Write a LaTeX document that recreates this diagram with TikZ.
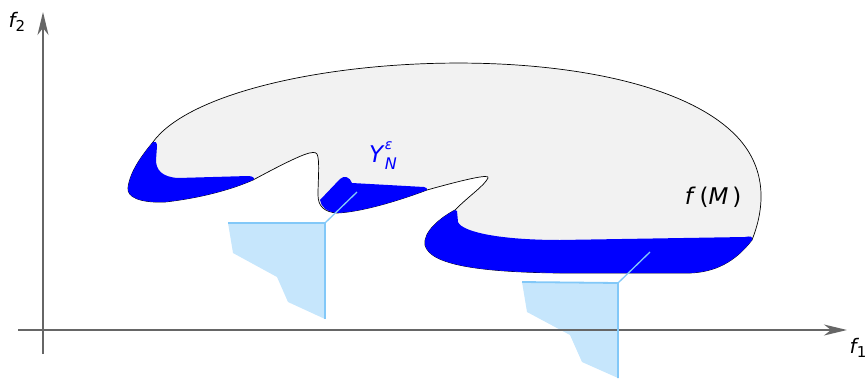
\documentclass[tikz,border=0pt]{standalone}
\usepackage{fontspec}
\setmainfont{DejaVu Sans}
\usetikzlibrary{arrows.meta}
\definecolor{coneLight}{RGB}{198,230,252}
\definecolor{coneLine}{RGB}{130,200,248}

\begin{document}
\begin{tikzpicture}[
        x=1pt, y=-1pt,
        axisLine/.style={
            draw=black!60,
            line width=1.6pt,
            -{Stealth[length=23pt, width=11pt, inset=7pt]}
        },
        setFill/.style={
            fill=gray!10,
            draw=black,
            line width=0.7pt
        },
        nondomFill/.style={
            fill=blue,
            draw=none
        },
        coneFill/.style={
            fill=coneLight,
            draw=none
        },
        coneEdge/.style={
            draw=coneLine,
            line width=1.8pt
        },
        axisLabel/.style={
            font=\fontsize{20}{24}\selectfont\itshape
        },
        setLabel/.style={
            font=\fontsize{23}{27}\selectfont
        }
    ]

        \useasboundingbox (0,0) rectangle (865,378);

        % Image set f(M)
        \path[setFill]
            (153,142) .. controls (220,50) and (640,25) .. (740,140)
            .. controls (770,175) and (762,215) .. (752,240)
            .. controls (735,262) and (715,272) .. (690,273)
            -- (560,273)
            .. controls (480,272) and (430,265) .. (425,245)
            .. controls (423,232) and (440,218) .. (455,210)
            .. controls (470,195) and (484,186) .. (488,178)
            .. controls (490,174) and (470,178) .. (427,190)
            .. controls (395,202) and (360,212) .. (337,213)
            .. controls (324,212) and (318,206) .. (318,195)
            .. controls (318,180) and (320,160) .. (317,154)
            .. controls (314,150) and (305,152) .. (253,180)
            .. controls (230,190) and (200,198) .. (165,202)
            .. controls (140,203) and (127,197) .. (128,188)
            .. controls (130,170) and (145,152) .. (153,142)
            -- cycle;

        % Nondominated parts
        \fill[nondomFill]
            (153,142) .. controls (145,152) and (130,170) .. (128,188)
            .. controls (127,197) and (140,203) .. (165,202)
            .. controls (200,198) and (230,190) .. (253,180)
            .. controls (256,178) and (252,176) .. (248,176)
            -- (178,178)
            .. controls (162,177) and (156,170) .. (156,160)
            -- (157,146)
            .. controls (157,142) and (155,141) .. (153,142)
            -- cycle;

        \fill[nondomFill]
            (320,200) -- (340,179)
            .. controls (344,175) and (350,177) .. (352,183)
            -- (424,187)
            .. controls (426,187) and (428,189) .. (427,190)
            .. controls (395,202) and (360,212) .. (337,213)
            .. controls (327,212) and (321,207) .. (320,200)
            -- cycle;

        \fill[nondomFill]
            (455,210) .. controls (440,218) and (423,232) .. (425,245)
            .. controls (430,265) and (480,272) .. (560,273)
            -- (690,273)
            .. controls (715,272) and (735,262) .. (752,240)
            .. controls (753,236) and (750,236) .. (745,237)
            -- (560,240)
            .. controls (500,240) and (462,232) .. (458,222)
            -- (457,211)
            -- cycle;

        % Ordering cones
        \coordinate (apexA) at (325,223);
        \coordinate (leftA) at (228,223);
        \coordinate (footA) at (325,319);
        \coordinate (tipA) at (357,192);
        \fill[coneFill] (leftA) -- (apexA) -- (footA) -- (288,302)
            -- (277,277) -- (233,253) -- cycle;
        \draw[coneEdge] (leftA) -- (apexA) -- (footA);
        \draw[coneEdge, line width=1.3pt] (apexA) -- (tipA);

        \coordinate (apexB) at (618,283);
        \coordinate (leftB) at (522,282);
        \coordinate (footB) at (618,378);
        \coordinate (tipB) at (650,252);
        \fill[coneFill] (leftB) -- (apexB) -- (footB) -- (582,362)
            -- (570,335) -- (527,312) -- cycle;

        % Axes
        \coordinate (yBottom) at (43,354);
        \coordinate (yTop) at (43,12);
        \coordinate (xLeft) at (18,330);
        \coordinate (xRight) at (847,330);
        \draw[axisLine] (yBottom) -- (yTop);
        \draw[axisLine] (xLeft) -- (xRight);

        \draw[coneEdge] (leftB) -- (apexB) -- (footB);
        \draw[coneEdge, line width=1.3pt] (apexB) -- (tipB);

        % Labels
        \node[axisLabel] (labelF2) at (17,22) {f\raisebox{-0.35ex}{\upshape\fontsize{15}{17}\selectfont 2}};
        \node[axisLabel] (labelF1) at (858,348) {f\raisebox{-0.35ex}{\upshape\fontsize{15}{17}\selectfont 1}};
        \node[setLabel] (labelFM) at (713,197) {\textit{f}\,(\textit{M}\,)};
        \node[setLabel, text=blue] (labelY) at (383,156)
            {\textit{Y}\rlap{\raisebox{1.0ex}{\fontsize{14}{16}\selectfont\textit{ε}}}\raisebox{-0.6ex}{\fontsize{16}{18}\selectfont\textit{N}}};

    \end{tikzpicture}
\end{document}
